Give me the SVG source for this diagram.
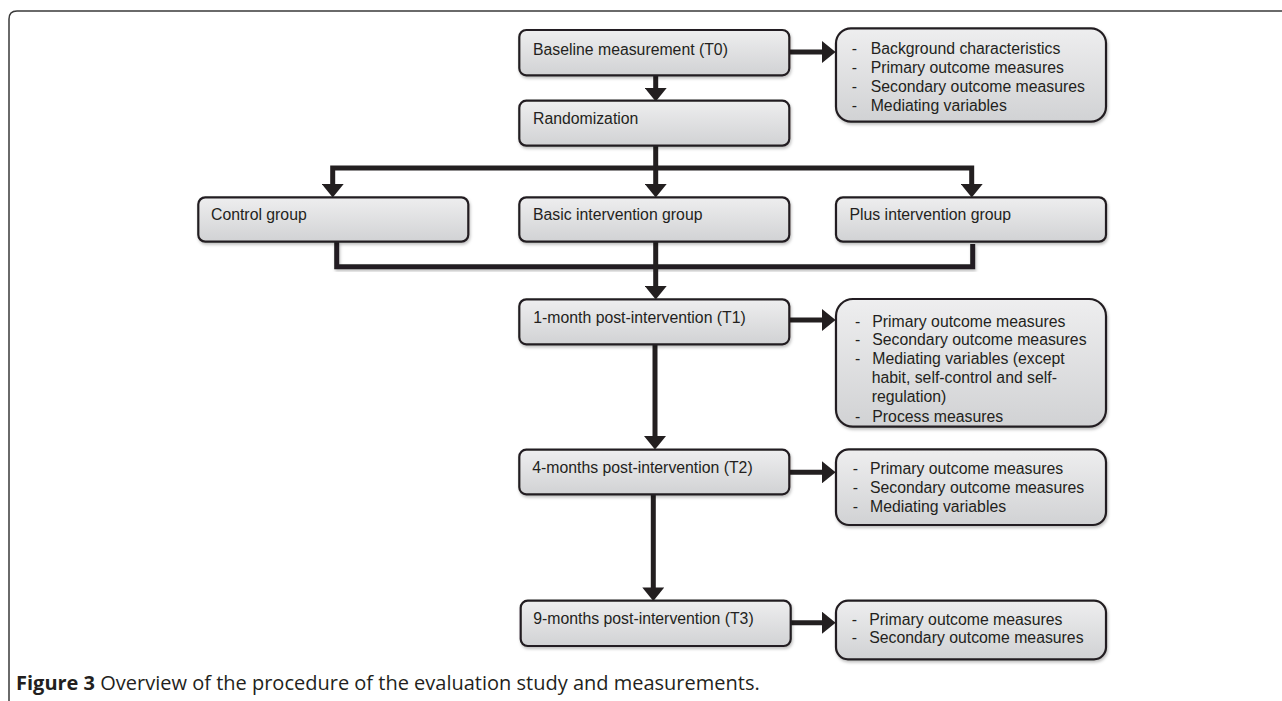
<svg xmlns="http://www.w3.org/2000/svg" width="1282" height="701" viewBox="0 0 1282 701">
<defs>
<linearGradient id="g" x1="0" y1="0" x2="0" y2="1">
<stop offset="0" stop-color="#eeeeef"/>
<stop offset="1" stop-color="#d1d2d4"/>
</linearGradient>
<filter id="sh" x="-5%" y="-10%" width="110%" height="130%">
<feDropShadow dx="1" dy="2" stdDeviation="1.5" flood-color="#000" flood-opacity="0.25"/>
</filter>
<marker id="ah" markerUnits="userSpaceOnUse" markerWidth="14" markerHeight="22" viewBox="0 0 13 21" refX="0.5" refY="10.5" orient="auto">
<path d="M0,0 L13,10.5 L0,21 Z" fill="#231f20"/>
</marker>
</defs>
<style>
.box{fill:url(#g);stroke:#231f20;stroke-width:2.2;filter:url(#sh)}
.t{font-family:"Liberation Sans",Arial,sans-serif;font-size:15.8px;fill:#231f20}
.c{fill:none;stroke:#231f20;stroke-width:5;stroke-linejoin:miter}
.a{marker-end:url(#ah)}
.cap{font-family:"Open Sans","Liberation Sans",sans-serif;font-size:20px;fill:#231f20}
</style>
<rect width="1282" height="701" fill="#ffffff"/>
<path d="M9,701 V19 Q9,11 17,11 H1282" fill="none" stroke="#3a3a3a" stroke-width="1.5"/>

<g id="connectors">
<path class="c a" d="M789,52 H822.5"/>
<path class="c a" d="M655.7,75 V88.5"/>
<path class="c a" d="M655.7,146 V184.5"/>
<path class="c a" d="M655.7,168 H332.7 V184.5"/>
<path class="c a" d="M655.7,168 H971.7 V184.5"/>
<path class="c" d="M336.7,242 V266.7 H972.7 V244" filter="url(#sh)"/>
<path class="c a" d="M655.7,242 V286.5"/>
<path class="c a" d="M789,320 H822.5"/>
<path class="c a" d="M655,344 V436.5"/>
<path class="c a" d="M789,472.3 H822.5"/>
<path class="c a" d="M653.3,494 V588"/>
<path class="c a" d="M790.7,622.7 H822.5"/>
</g>

<g id="baseline">
<rect class="box" x="519.3" y="30" width="270" height="45.3" rx="7"/>
<text class="t" x="533" y="55">Baseline measurement (T0)</text>
</g>
<g id="baseline-measures">
<rect class="box" x="836" y="28.3" width="270" height="93.4" rx="15"/>
<text class="t" x="851.7" y="54.3">-</text><text class="t" x="870.7" y="54.3">Background characteristics</text>
<text class="t" x="851.7" y="73.3">-</text><text class="t" x="870.7" y="73.3">Primary outcome measures</text>
<text class="t" x="851.7" y="92.3">-</text><text class="t" x="870.7" y="92.3">Secondary outcome measures</text>
<text class="t" x="851.7" y="111.3">-</text><text class="t" x="870.7" y="111.3">Mediating variables</text>
</g>
<g id="randomization">
<rect class="box" x="519.3" y="100.7" width="270" height="45" rx="7"/>
<text class="t" x="533" y="124.3">Randomization</text>
</g>
<g id="control">
<rect class="box" x="198.3" y="197.3" width="270" height="44.4" rx="7"/>
<text class="t" x="211" y="220">Control group</text>
</g>
<g id="basic">
<rect class="box" x="519.3" y="197.3" width="270" height="44.4" rx="7"/>
<text class="t" x="533" y="220">Basic intervention group</text>
</g>
<g id="plus">
<rect class="box" x="836" y="197.3" width="270" height="44.4" rx="7"/>
<text class="t" x="849.5" y="220">Plus intervention group</text>
</g>
<g id="t1">
<rect class="box" x="519.3" y="299.3" width="270" height="45" rx="7"/>
<text class="t" x="533.3" y="323.3">1-month post-intervention (T1)</text>
</g>
<g id="t1-measures">
<rect class="box" x="836" y="299" width="270" height="127.7" rx="17"/>
<text class="t" x="855" y="326.7">-</text><text class="t" x="872.3" y="326.7">Primary outcome measures</text>
<text class="t" x="855" y="345.3">-</text><text class="t" x="872.3" y="345.3">Secondary outcome measures</text>
<text class="t" x="855" y="364">-</text><text class="t" x="872.3" y="364">Mediating variables (except</text>
<text class="t" x="871.7" y="383.3">habit, self-control and self-</text>
<text class="t" x="871.7" y="401.7">regulation)</text>
<text class="t" x="855" y="421.7">-</text><text class="t" x="872.3" y="421.7">Process measures</text>
</g>
<g id="t2">
<rect class="box" x="519.3" y="449.7" width="270" height="44.6" rx="7"/>
<text class="t" x="532.3" y="472.7">4-months post-intervention (T2)</text>
</g>
<g id="t2-measures">
<rect class="box" x="836" y="449.3" width="270" height="75.7" rx="13"/>
<text class="t" x="852.7" y="474">-</text><text class="t" x="870" y="474">Primary outcome measures</text>
<text class="t" x="852.7" y="492.7">-</text><text class="t" x="870" y="492.7">Secondary outcome measures</text>
<text class="t" x="852.7" y="511.7">-</text><text class="t" x="870" y="511.7">Mediating variables</text>
</g>
<g id="t3">
<rect class="box" x="520.7" y="600.7" width="270" height="45.3" rx="7"/>
<text class="t" x="533.3" y="624">9-months post-intervention (T3)</text>
</g>
<g id="t3-measures">
<rect class="box" x="836" y="600.7" width="270" height="58.6" rx="12"/>
<text class="t" x="851.7" y="625">-</text><text class="t" x="869.3" y="625">Primary outcome measures</text>
<text class="t" x="851.7" y="643.3">-</text><text class="t" x="869.3" y="643.3">Secondary outcome measures</text>
</g>

<text class="cap" x="16" y="690"><tspan font-weight="bold">Figure 3</tspan> Overview of the procedure of the evaluation study and measurements.</text>
</svg>
